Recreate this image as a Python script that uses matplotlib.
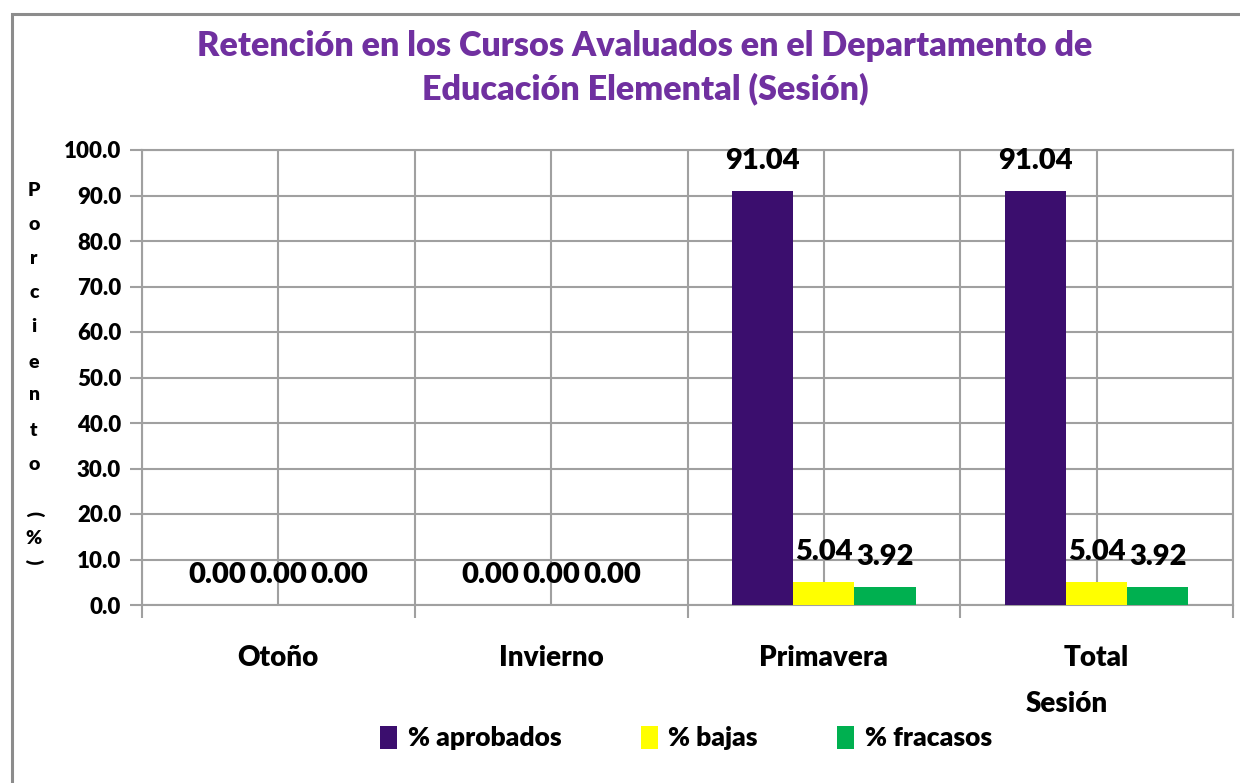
import matplotlib
matplotlib.use("Agg")
import matplotlib.pyplot as plt
import numpy as np
from matplotlib.patches import Rectangle, Patch

plt.rcParams['font.family'] = ['Lato', 'DejaVu Sans']
plt.rcParams['font.weight'] = 'heavy'

categories = ["Otoño", "Invierno", "Primavera", "Total"]
series_names = ["% aprobados", "% bajas", "% fracasos"]
aprobados = [0.00, 0.00, 91.04, 91.04]
bajas = [0.00, 0.00, 5.04, 5.04]
fracasos = [0.00, 0.00, 3.92, 3.92]
yticks = [0, 10, 20, 30, 40, 50, 60, 70, 80, 90, 100]
title = "Retención en los Cursos Avaluados en el Departamento de\nEducación Elemental (Sesión)"
ylabel_letters = list("Porciento")
xlabel = "Sesión"

colors = ["#3B0E6E", "#FFFF00", "#00B050"]
grid_c = "#A0A0A0"
W_ = 'heavy'

W, H = 1240, 783
fig = plt.figure(figsize=(W / 100, H / 100), dpi=100)
fig.patch.set_facecolor("white")

# chart border
fig.add_artist(Rectangle((12 / W, -0.1), 1.2, 1 - 14 / H + 0.1, transform=fig.transFigure,
                         fill=False, edgecolor="#8C8C8C", linewidth=2.2))

ax = fig.add_axes([142 / W, 1 - 605 / H, (1233 - 142) / W, (605 - 150) / H])
x = np.arange(len(categories))
bw = 0.224
offsets = [-bw, 0, bw]
series = [aprobados, bajas, fracasos]
for s, name, c, off in zip(series, series_names, colors, offsets):
    bars = ax.bar(x + off, s, width=bw, color=c, label=name, zorder=3)
    ax.bar_label(bars, labels=[f"{v:.2f}" for v in s], padding=12,
                 fontsize=21, fontweight=W_, color="black")

ax.set_xlim(-0.5, len(categories) - 0.5)
ax.set_ylim(0, 100)
ax.set_yticks(yticks)
ax.set_yticklabels([f"{v:.1f}" for v in yticks], fontsize=16, fontweight=W_)
ax.set_xticks(np.arange(-0.5, len(categories), 1.0))
ax.set_xticklabels([])
ax.set_xticks(np.arange(len(categories)), minor=True)
ax.set_xticklabels(categories, minor=True, fontsize=20, fontweight=W_)
ax.tick_params(axis='x', which='minor', length=0, pad=29)
ax.tick_params(axis='x', which='major', length=9, width=1.5, color=grid_c)
ax.tick_params(axis='y', length=9, width=1.5, color=grid_c, pad=6)

ax.grid(True, axis='y', color=grid_c, linewidth=1.5, zorder=0)
for xv in np.arange(-0.5, len(categories), 0.5):
    ax.axvline(xv, color=grid_c, linewidth=1.5, zorder=0)
for sp in ax.spines.values():
    sp.set_color(grid_c)
    sp.set_linewidth(1.5)
ax.set_axisbelow(True)

fig.text(645 / W, 1 - 68 / H, title, ha='center', va='center', fontsize=24.6,
         fontweight=W_, color="#7030A0", linespacing=1.4)

# stacked y-axis label
ys = [190, 225, 258, 292, 327, 362, 395, 430, 464]
for ch, yy in zip(ylabel_letters, ys):
    fig.text(34 / W, 1 - yy / H, ch, ha='center', va='center', fontsize=14, fontweight=W_)
fig.text(34 / W, 1 - 514 / H, "(", ha='center', va='center', fontsize=14, fontweight=W_, rotation=-90)
fig.text(34 / W, 1 - 539 / H, "%", ha='center', va='center', fontsize=14, fontweight=W_)
fig.text(34 / W, 1 - 562 / H, ")", ha='center', va='center', fontsize=14, fontweight=W_, rotation=-90)

fig.text(1067 / W, 1 - 704 / H, xlabel, ha='center', va='center', fontsize=20, fontweight=W_)

handles = [Patch(facecolor=c, edgecolor='none') for c in colors]
fig.legend(handles, series_names, loc='center', bbox_to_anchor=(686 / W, 1 - 738 / H),
           ncol=3, frameon=False, handlelength=0.65, handleheight=0.95,
           handletextpad=0.4, columnspacing=3.0, prop={'weight': W_, 'size': 19})

fig.savefig("out.png", dpi=100, facecolor="white")
